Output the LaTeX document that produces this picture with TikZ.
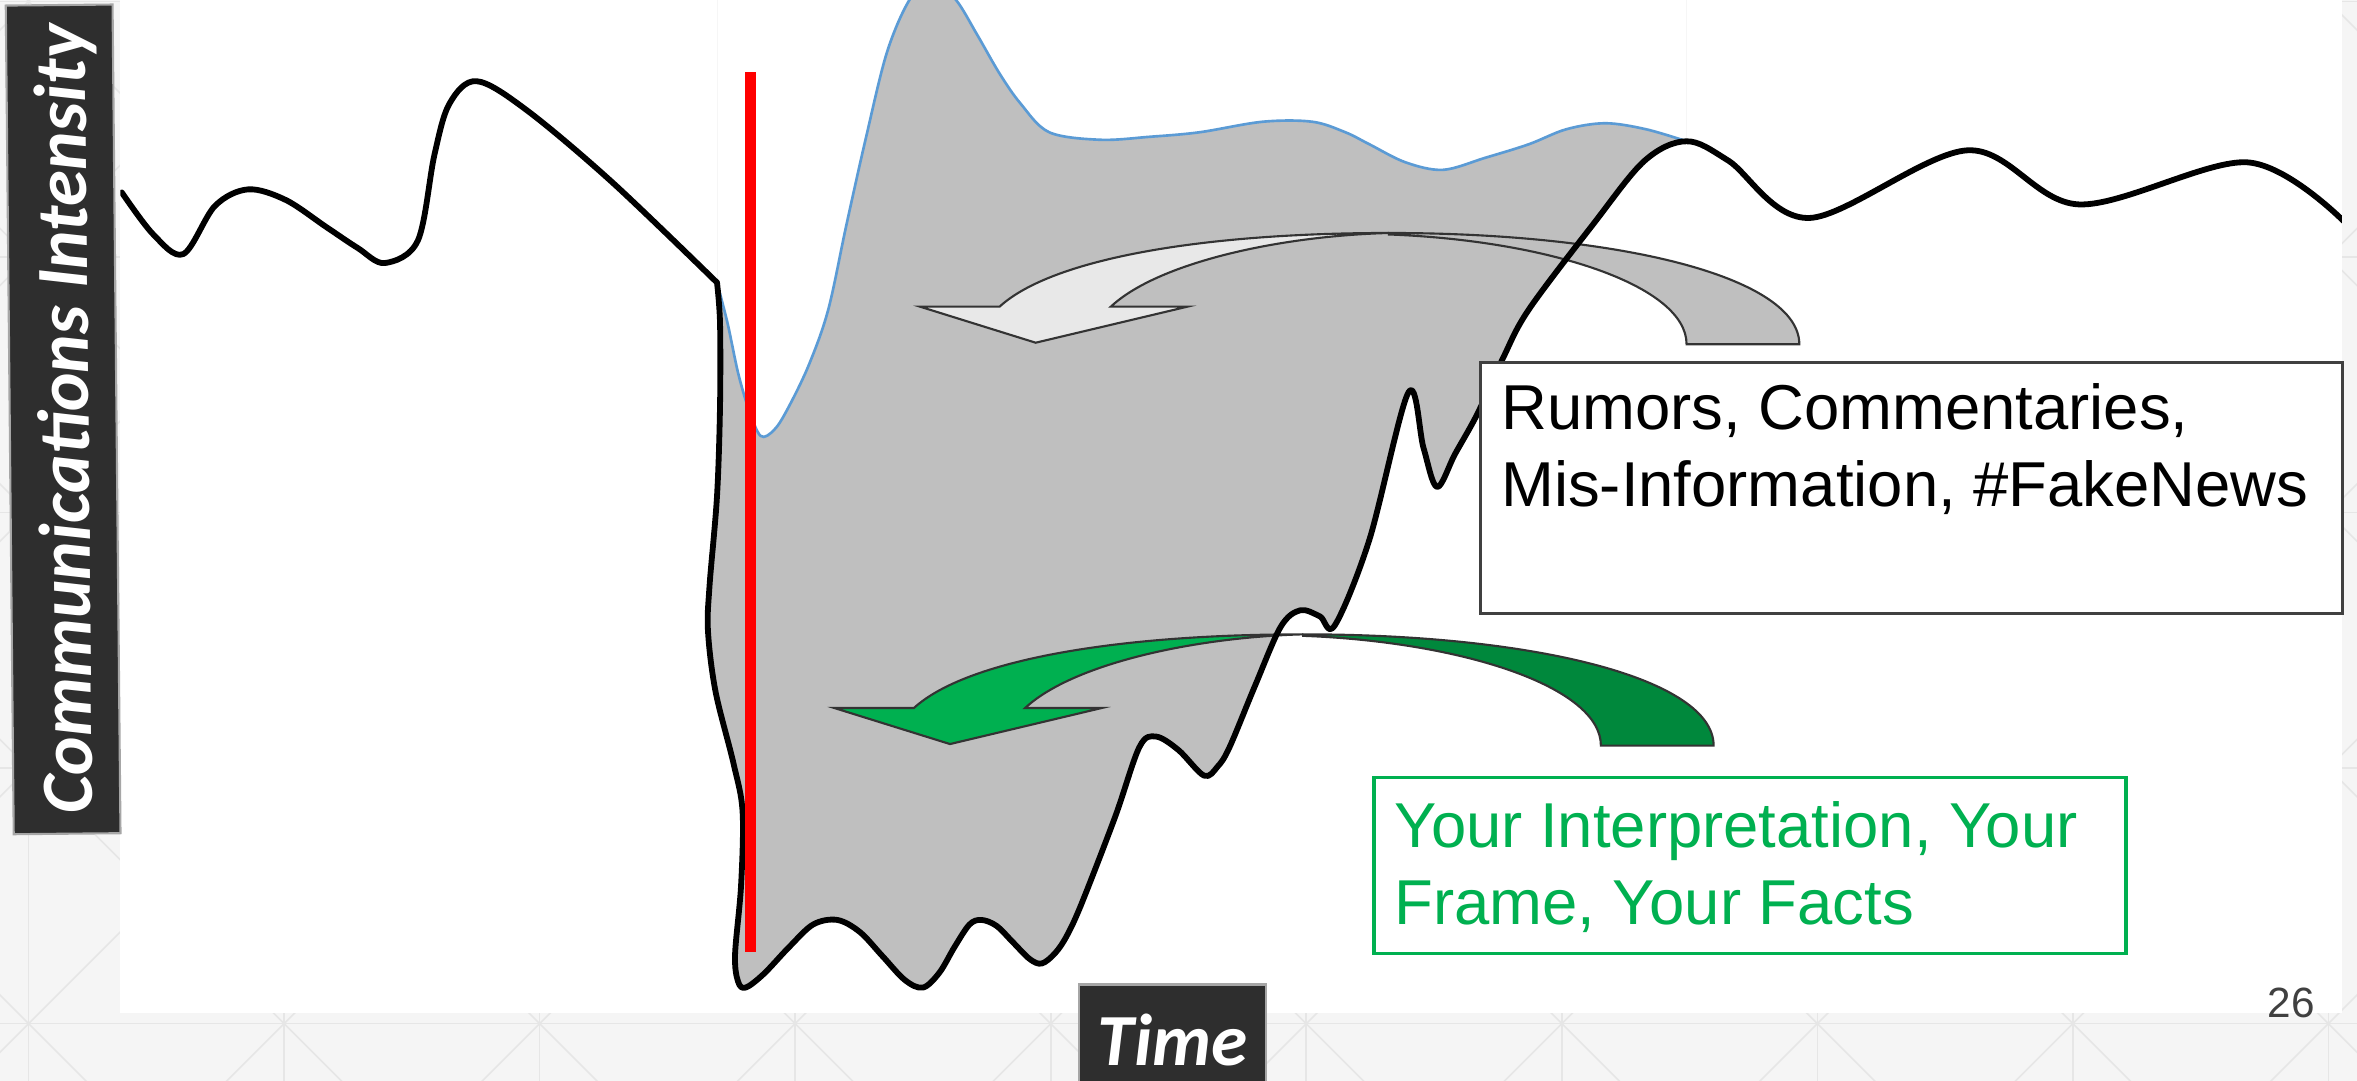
\documentclass[tikz,border=0pt]{standalone}
\usepackage{fontspec}
\setmainfont{Liberation Sans}
\newfontfamily\tagfont{Carlito}
\usetikzlibrary{positioning}

\definecolor{paper}{HTML}{F5F5F5}
\definecolor{lattice}{HTML}{E6E6E6}
\definecolor{tagbox}{HTML}{2E2E2E}
\definecolor{fillgray}{HTML}{BFBFBF}
\definecolor{spikeblue}{HTML}{5B9BD5}
\definecolor{rumorlight}{HTML}{E8E8E8}
\definecolor{factgreen}{HTML}{00B050}
\definecolor{factdark}{HTML}{00883C}
\definecolor{folio}{HTML}{404040}

% the black intensity line after the event, and the upper edge of the buzz
\newcommand\fallcurve{plot[smooth, tension=0.55] coordinates {(477,188) (479,215) (479,270) (477,330) (472,390) (471,420) (476,460) (488,508) (494,540) (493,589) (489,635) (491,653) (496,657) (508,648) (525,630) (541,615) (557,612) (572,620) (587,636) (602,652) (614,657) (625,647) (635,630) (645,615) (653,612) (663,616) (674,627) (685,638) (693,641) (702,634) (710,622) (720,600) (742,543) (758,497) (769,490) (784,499) (801,516) (810,510) (818,497) (835,456) (852,417) (865,406) (878,410) (888,416) (911,359) (937,261) (947,298) (956,324) (968,302) (983,275) (1000,238) (1017,206) (1060,149) (1094,107) (1122,94) (1150,107) (1204,145) (1309,100) (1383,136) (1495,108) (1559,147)}}
\newcommand\risecurve{plot[smooth, tension=0.55] coordinates {(477,188) (484,215) (491,248) (498,272) (506,290) (515,286) (524,272) (538,243) (551,206) (563,150) (576,92) (590,35) (605,0) (620,-14) (636,0) (650,23) (665,49) (679,69) (698,88) (732,93) (765,91) (798,88) (840,81) (873,81) (895,88) (911,96) (935,108) (960,113) (988,105) (1017,96) (1042,86) (1068,82) (1095,86) (1122,94)}}

% curved block arrow: shift, back colour, front colour
\newcommand\bentarrow[3]{%
  \begin{scope}[shift={#1}, draw=black!80, line width=0.4pt]
    \filldraw[fill=#2] (924,155) .. controls (1080,155) and (1197,185) .. (1197,229)
      -- (1122,229) .. controls (1122,190) and (1030,160) .. (924,156) -- cycle;
    \filldraw[fill=#3] (612,204) -- (665,204) .. controls (700,172) and (800,155) .. (924,155)
      .. controls (850,157) and (770,175) .. (739,204) -- (790,204) -- (689,228) -- cycle;
  \end{scope}}

\begin{document}
\begin{tikzpicture}[x=0.01cm, y=-0.01cm,
    intensity/.style={line width=1.1pt, line join=round, line cap=round},
    tag/.style={fill=tagbox, draw=gray!70, line width=0.4pt, text=white, inner sep=0pt,
      text depth=0pt, font=\tagfont\bfseries\itshape\fontsize{13.9}{16}\selectfont},
    callout/.style={fill=white, line width=0.6pt, inner sep=0pt},
    blurb/.style={anchor=base west, align=left, inner sep=0pt, font=\fontsize{12}{14.5}\selectfont}]
  \useasboundingbox (0,0) rectangle (1568,719);

  % slide background
  \fill[paper] (0,0) rectangle (1568,719);
  \begin{scope}[lattice, line width=0.3pt]
    \clip (0,0) rectangle (1568,719);
    \foreach \i in {0,...,9} \draw (19+170*\i,0) -- ++(0,719);
    \foreach \j in {0,...,4} \draw (0,681-170*\j) -- ++(1568,0);
    \foreach \m in {0,...,13} \draw (20+170*\m,0) -- ++(-800,800);
    \foreach \n in {-5,...,9} \draw (18+170*\n,0) -- ++(800,800);
  \end{scope}
  \fill[white] (80,0) rectangle (1558,674);

  \begin{scope}
    \clip (80,0) rectangle (1558,674);
    % the buzz between the two lines
    \begin{scope}
      \clip (400,-50) rectangle (1122,700);
      \fill[fillgray, even odd rule] \fallcurve -- (1559,-50) -- (477,-50) -- cycle
        \risecurve -- (1122,-50) -- (477,-50) -- cycle;
    \end{scope}
    \draw[spikeblue, line width=0.5pt] \risecurve;

    \bentarrow{(0,0)}{fillgray}{rumorlight}
    \bentarrow{(-57,267)}{factdark}{factgreen}

    \draw[intensity] plot[smooth, tension=0.55] coordinates {(81,128) (102,156) (122,169) (143,137) (165,126) (190,133) (217,151) (238,165) (256,175) (278,160) (289,103) (299,69) (317,54) (350,73) (407,121) (477,188)};
    \draw[intensity] \fallcurve;
  \end{scope}

  % the event
  \draw[red, line width=2.1pt] (499.5,48) -- (499.5,633);

  \node (rumorbox) [callout, draw=folio, anchor=north west, minimum width=5.73cm, minimum height=1.67cm] at (984,240) {};
  \node (rumortext) [blurb] at ([shift={(14,97)}]rumorbox.north west) {Rumors, Commentaries,\\Mis-Information, \#FakeNews};

  \node (factbox) [callout, draw=factgreen, anchor=north west, minimum width=5.00cm, minimum height=1.17cm] at (913,516) {};
  \node (facttext) [blurb, text=factgreen] at ([shift={(14,99)}]factbox.north west) {Your Interpretation, Your\\Frame, Your Facts};

  \node (intensitytag) [tag, rotate=90.55, minimum width=5.51cm, minimum height=0.71cm] at (42,279) {Communications Intensity};
  \node (timetag) [tag, minimum width=1.24cm, minimum height=0.73cm] at (780,691.5) {Time};
  \node (pageno) [anchor=base west, inner sep=0pt, text=folio, font=\fontsize{8}{10}\selectfont] at (1508,677) {26};
\end{tikzpicture}
\end{document}
